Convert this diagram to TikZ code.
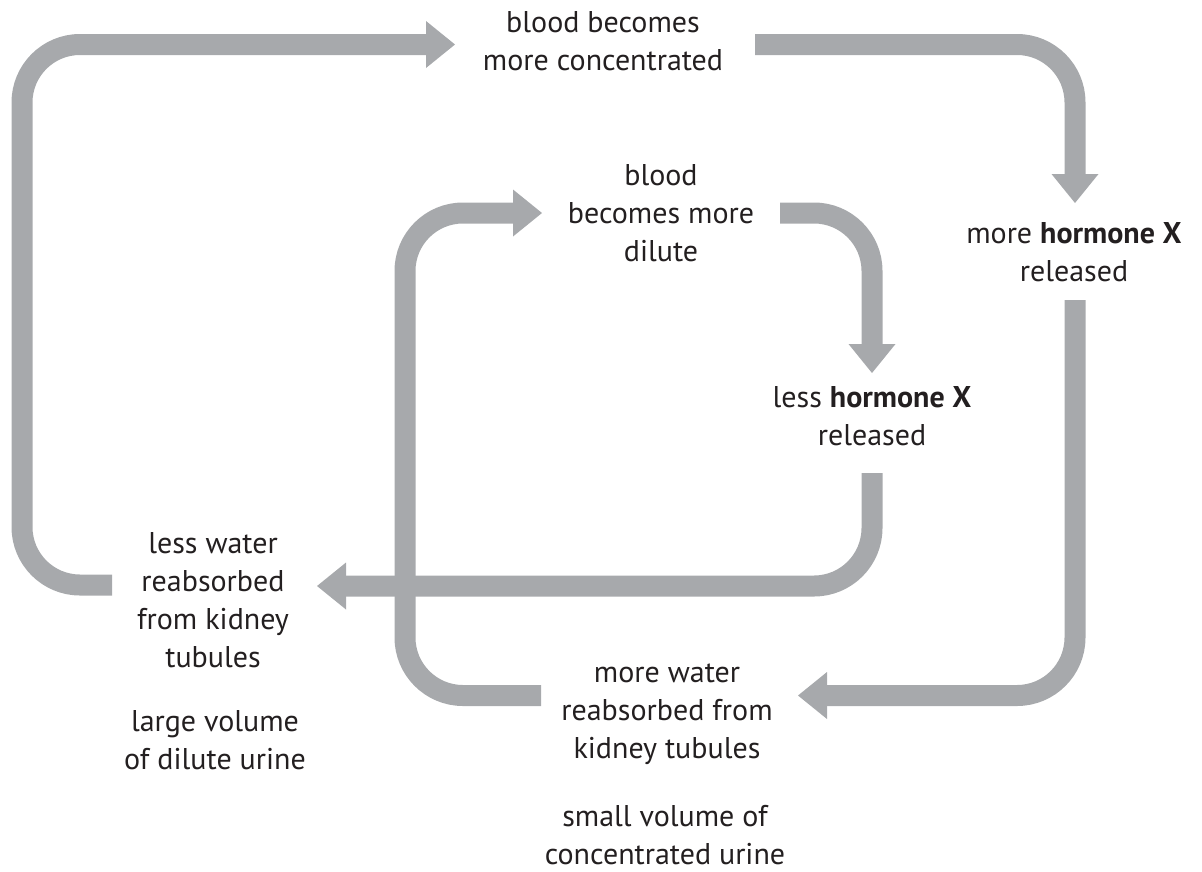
\documentclass[tikz,border=0pt]{standalone}
\usepackage{fontspec}
\setmainfont{PT Sans}
\usetikzlibrary{arrows.meta}
\definecolor{arrgray}{HTML}{A7A9AC}
\definecolor{txt}{HTML}{231F20}
\tikzset{
  flow/.style={draw=arrgray, line width=21pt, rounded corners=58pt,
    -{Triangle[width=47pt,length=29pt,line width=0pt]}},
  lbl/.style={align=center, text=txt, inner sep=0pt,
    font=\fontsize{30}{38}\selectfont}
}
\begin{document}
\begin{tikzpicture}[x=1pt,y=-1pt]
\useasboundingbox (0,0) rectangle (1202,871);
% labels
\node[lbl] (bc) at (603,41) {blood becomes\\more concentrated};
\node[lbl] (bd) at (661,213) {blood\\becomes more\\dilute};
\node[lbl] (mh) at (1074,252) {more \textbf{hormone X}\\released};
\node[lbl] (lh) at (872,416) {less \textbf{hormone X}\\released};
\node[lbl] (lw) at (213,600) {less water\\reabsorbed\\from kidney\\tubules};
\node[lbl] (lv) at (215,740) {large volume\\of dilute urine};
\node[lbl] (mw) at (667,714) {more water\\reabsorbed from\\kidney tubules};
\node[lbl] (sv) at (665,835) {small volume of\\concentrated urine};
% connector ends
\coordinate (lwL) at (112,585);
\coordinate (bcL) at (455,44.5);
\coordinate (bcR) at (755,44.5);
\coordinate (mhT) at (1075,203);
\coordinate (mhB) at (1075,300);
\coordinate (mwR) at (798,695.5);
\coordinate (mwL) at (541,695.5);
\coordinate (bdL) at (542,213);
\coordinate (bdR) at (780,213);
\coordinate (lhT) at (872,373);
\coordinate (lhB) at (872,473);
\coordinate (lwR) at (317,586);
% connectors
\draw[flow] (lwL) -| (22,44.5) -- (bcL);
\draw[flow] (bcR) -| (mhT);
\draw[flow] (mhB) |- (mwR);
\draw[flow] (mwL) -| (405,213) -- (bdL);
\draw[flow] (bdR) -| (lhT);
\draw[flow] (lhB) |- (lwR);
\end{tikzpicture}
\end{document}
